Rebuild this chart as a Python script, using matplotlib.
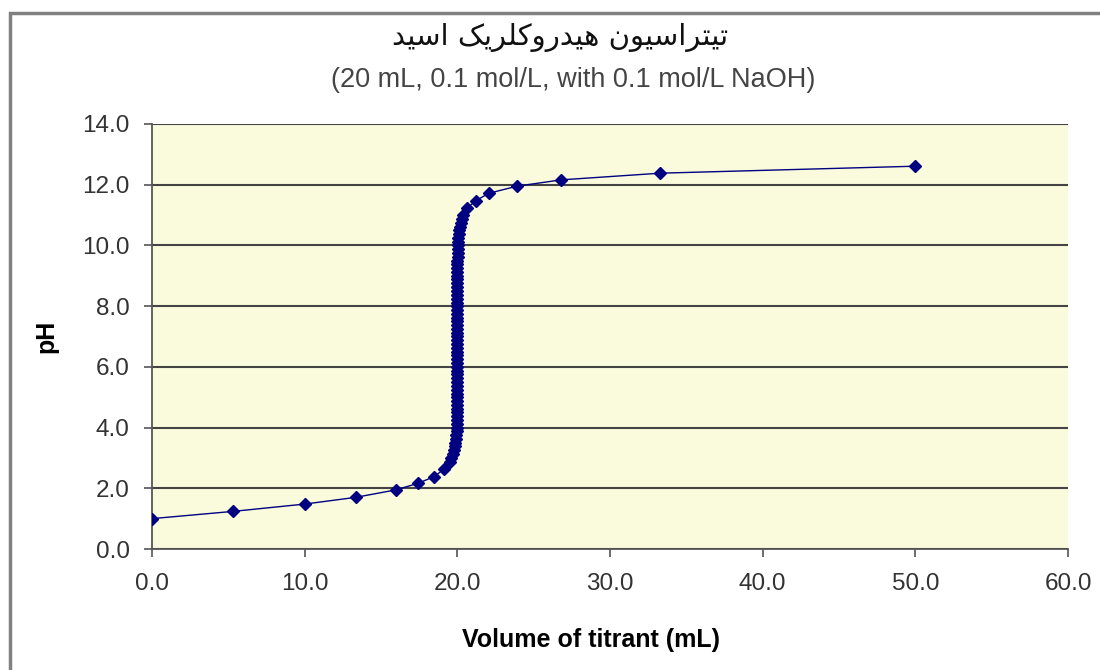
import matplotlib
matplotlib.use("Agg")
import matplotlib.pyplot as plt
from matplotlib.patches import Rectangle

# titrant volume (mL) and pH readings taken off the curve
volume = [0.0, 5.33, 10.0, 13.33, 16.0, 17.4, 18.47, 19.1, 19.5, 19.6, 19.7,
          19.78, 19.83, 19.87, 19.9, 19.93, 19.95, 19.96, 19.97, 19.98, 19.98,
          19.99, 19.99,
          20.0, 20.0, 20.0, 20.0, 20.0, 20.0, 20.0, 20.0, 20.0, 20.0,
          20.0, 20.0, 20.0, 20.0, 20.0, 20.0, 20.0, 20.0, 20.0, 20.0,
          20.0, 20.0, 20.0, 20.0, 20.0, 20.0, 20.0, 20.0, 20.0, 20.0,
          20.0, 20.0, 20.0, 20.0, 20.0,
          20.0, 20.0, 20.01, 20.01, 20.02, 20.03, 20.04, 20.04, 20.05, 20.07,
          20.1, 20.13, 20.17, 20.23, 20.3, 20.4,
          20.65, 21.2, 22.07, 23.9, 26.8, 33.3, 50.0]
ph = [1.0, 1.24, 1.48, 1.7, 1.95, 2.16, 2.38, 2.62, 2.87, 3.0, 3.12,
      3.25, 3.38, 3.5, 3.62, 3.75, 3.88, 4.0, 4.12, 4.25, 4.38,
      4.5, 4.62,
      4.75, 4.88, 5.0, 5.12, 5.25, 5.38, 5.5, 5.62, 5.75, 5.88,
      6.0, 6.12, 6.25, 6.38, 6.5, 6.62, 6.75, 6.88, 7.0, 7.12,
      7.25, 7.38, 7.5, 7.62, 7.75, 7.88, 8.0, 8.12, 8.25, 8.38,
      8.5, 8.62, 8.75, 8.88, 9.0,
      9.12, 9.25, 9.38, 9.5, 9.62, 9.75, 9.88, 10.0, 10.12, 10.25,
      10.38, 10.5, 10.62, 10.75, 10.88, 11.0,
      11.23, 11.47, 11.72, 11.95, 12.16, 12.38, 12.61]

x_ticks = [0, 10, 20, 30, 40, 50, 60]
y_ticks = [0, 2, 4, 6, 8, 10, 12, 14]

title_fa = "تیتراسیون هیدروکلریک اسید"
subtitle = "(20 mL, 0.1 mol/L, with 0.1 mol/L NaOH)"
x_label = "Volume of titrant (mL)"
y_label = "pH"

# matplotlib has no Arabic shaping, so pick the joined forms by hand
FORMS = {  # isolated, final, initial, medial
    "ا": ("\uFE8D", "\uFE8E", None, None),
    "د": ("\uFEA9", "\uFEAA", None, None),
    "ر": ("\uFEAD", "\uFEAE", None, None),
    "و": ("\uFEED", "\uFEEE", None, None),
    "ت": ("\uFE95", "\uFE96", "\uFE97", "\uFE98"),
    "س": ("\uFEB1", "\uFEB2", "\uFEB3", "\uFEB4"),
    "ن": ("\uFEE5", "\uFEE6", "\uFEE7", "\uFEE8"),
    "ه": ("\uFEE9", "\uFEEA", "\uFEEB", "\uFEEC"),
    "ل": ("\uFEDD", "\uFEDE", "\uFEDF", "\uFEE0"),
    "ی": ("\uFBFC", "\uFBFD", "\uFBFE", "\uFBFF"),
    "ک": ("\uFB8E", "\uFB8F", "\uFB90", "\uFB91"),
}


def shape_rtl(text):
    out = []
    for word in text.split(" "):
        chars = []
        for i, c in enumerate(word):
            prev_joins = i > 0 and FORMS[word[i - 1]][2] is not None
            next_exists = i < len(word) - 1
            iso, fin, ini, med = FORMS[c]
            joins_next = next_exists and ini is not None
            if prev_joins and joins_next:
                chars.append(med)
            elif prev_joins:
                chars.append(fin)
            elif joins_next:
                chars.append(ini)
            else:
                chars.append(iso)
        out.append("".join(chars))
    return " ".join(out)[::-1]


plt.rcParams["font.family"] = ["Liberation Sans", "DejaVu Sans"]

fig = plt.figure(figsize=(11, 6.7), dpi=100)
fig.patches.append(Rectangle((10 / 1100, -0.1), 1.2, 1 - 13 / 670 + 0.1,
                             transform=fig.transFigure, fill=False,
                             edgecolor="#808080", linewidth=2.5))

ax = fig.add_axes([152 / 1100, 1 - 549 / 670, 916 / 1100, 425 / 670])
ax.set_facecolor("#FAFADC")
ax.plot(volume, ph, color="#000080", linewidth=1, marker="D",
        markersize=6, markerfacecolor="#000080", markeredgecolor="#000080",
        zorder=3)

ax.set_xlim(0, 60)
ax.set_ylim(0, 14)
ax.set_xticks(x_ticks)
ax.set_yticks(y_ticks)
ax.set_xticklabels([f"{v:.1f}" for v in x_ticks])
ax.set_yticklabels([f"{v:.1f}" for v in y_ticks])
ax.yaxis.grid(True, color="#444444", linewidth=1.5)
ax.set_axisbelow(True)
for s in ["top", "right"]:
    ax.spines[s].set_visible(False)
for s in ["left", "bottom"]:
    ax.spines[s].set_color("#555555")
    ax.spines[s].set_linewidth(1.3)
ax.tick_params(axis="both", direction="out", length=6, width=1.2,
               color="#555555", labelsize=17.5, labelcolor="#333333")
ax.tick_params(axis="x", pad=11)
ax.tick_params(axis="y", pad=10)

ax.set_xlabel(x_label, fontsize=18, fontweight="bold", labelpad=24)
ax.xaxis.label.set_x((591 - 152) / 916)
ax.set_ylabel(y_label, fontsize=18, fontweight="bold", labelpad=17)

fig.text(560 / 1100, 1 - 38 / 670, shape_rtl(title_fa), ha="center",
         va="center", fontsize=21, family=["DejaVu Sans"], color="#111111")
fig.text(573 / 1100, 1 - 80 / 670, subtitle, ha="center", va="center",
         fontsize=19.5, color="#444444")

fig.savefig("out.png", dpi=100)
